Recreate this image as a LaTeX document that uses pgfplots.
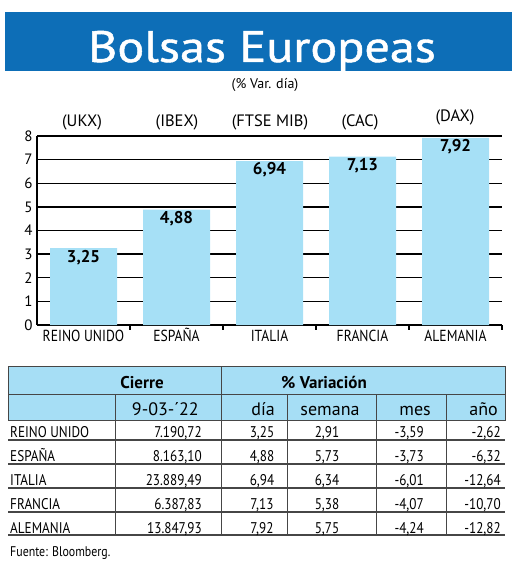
\documentclass[border=0pt]{standalone}
\usepackage{graphicx}
\usepackage{fontspec}
\setmainfont{PT Sans}
\newfontfamily\titlefont[FakeBold=1]{PT Sans}
\usepackage{pgfplots}
\pgfplotsset{compat=1.18}
\definecolor{bannerblue}{RGB}{13,110,183}
\definecolor{barblue}{RGB}{166,224,246}
\definecolor{headblue}{RGB}{166,222,245}
\definecolor{linegray}{RGB}{70,70,70}
\newcommand\cn[1]{\scalebox{0.85}[1]{#1}}
\newcommand\fs[1]{\fontsize{#1}{#1}\selectfont}
\begin{document}
\begin{tikzpicture}
\path[use as bounding box] (0pt,0pt) rectangle (520pt,-561pt);
% banner
\fill[bannerblue] (5pt,-12pt) rectangle (512pt,-71pt);
\node[text=white, anchor=base, inner sep=0pt, font=\titlefont\fs{44}] at (262pt,-62pt) {\scalebox{1.14}[1]{Bolsas Europeas}};
\node[anchor=base, inner sep=0pt, font=\fs{14}] at (265pt,-89pt) {(\% Var. día)};
% index labels
\node[anchor=base, inner sep=0pt, font=\fs{16.5}] at (82pt,-127pt) {(UKX)};
\node[anchor=base, inner sep=0pt, font=\fs{16.5}] at (177pt,-127pt) {(IBEX)};
\node[anchor=base, inner sep=0pt, font=\fs{16.5}] at (270pt,-127pt) {(FTSE MIB)};
\node[anchor=base, inner sep=0pt, font=\fs{16.5}] at (360pt,-127pt) {(CAC)};
\node[anchor=base, inner sep=0pt, font=\fs{16.5}] at (455pt,-122pt) {(DAX)};
\begin{axis}[
  at={(37pt,-325pt)}, anchor=south west,
  scale only axis, width=465pt, height=189pt,
  xmin=-0.5, xmax=4.5, ymin=0, ymax=8,
  axis x line*=bottom, axis y line*=left,
  axis line style={-, black, line width=1.3pt},
  ytick={0,1,2,3,4,5,6,7,8},
  ymajorgrids, major grid style={black, line width=1.3pt},
  ytick style={draw=none}, xtick style={draw=none},
  xtick=data,
  xticklabels={\cn{REINO UNIDO},\cn{ESPAÑA},\cn{ITALIA},\cn{FRANCIA},\cn{ALEMANIA}},
  xticklabel style={font=\fs{16}, text height=11.5pt, text depth=0pt, yshift=-1pt},
  yticklabel style={font=\fs{15}, xshift=-1pt},
  /pgf/number format/assume math mode=true,
  clip=false,
]
\addplot[ybar, bar width=67pt, fill=barblue, draw=none,
  nodes near coords={\pgfmathprintnumber[fixed,fixed zerofill,precision=2,use comma]{\pgfplotspointmeta}},
  every node near coord/.append style={anchor=north, inner sep=1.5pt, font=\bfseries\fs{17}, text=black}]
  coordinates {(0,3.25) (1,4.88) (2,6.94) (3,7.13) (4,7.92)};
\foreach \xx in {0.5,1.5,2.5,3.5,4.5}{
  \edef\temp{\noexpand\draw[black, line width=1.3pt] (axis cs:\xx,0) -- ++(0pt,-5pt);}
  \temp
}
\end{axis}
% table
\fill[headblue] (8pt,-366pt) rectangle (505pt,-420pt);
\draw[linegray, line width=1pt] (8pt,-366pt) rectangle (505pt,-420pt);
\draw[linegray, line width=1pt] (8pt,-394pt) -- (505pt,-394pt);
\draw[linegray, line width=1pt] (221pt,-366pt) -- (221pt,-535pt);
\foreach \xx in {115,287,376,446}{\draw[linegray, line width=0.8pt] (\xx pt,-394pt) -- (\xx pt,-535pt);}
\foreach \yy in {440,464,488,512,535}{\draw[linegray, line width=1.2pt] (8pt,-\yy pt) -- (505pt,-\yy pt);}
\node[anchor=base, inner sep=0pt, font=\bfseries\fs{17}] at (142pt,-388pt) {Cierre};
\node[anchor=base, inner sep=0pt, font=\bfseries\fs{17}] at (324pt,-388pt) {\% Variación};
\node[anchor=base east, inner sep=0pt, font=\fs{18}] at (199pt,-415pt) {9-03-´22};
\node[anchor=base east, inner sep=0pt, font=\fs{18}] at (275pt,-415pt) {día};
\node[anchor=base, inner sep=0pt, font=\fs{18}] at (330pt,-415pt) {semana};
\node[anchor=base east, inner sep=0pt, font=\fs{18}] at (431pt,-415pt) {mes};
\node[anchor=base east, inner sep=0pt, font=\fs{18}] at (498pt,-415pt) {año};
\foreach \nm/\ci/\di/\se/\me/\an [count=\i from 0] in {
  {REINO UNIDO}/{7.190,72}/{3,25}/{2,91}/{-3,59}/{-2,62},
  {ESPAÑA}/{8.163,10}/{4,88}/{5,73}/{-3,73}/{-6,32},
  {ITALIA}/{23.889,49}/{6,94}/{6,34}/{-6,01}/{-12,64},
  {FRANCIA}/{6.387,83}/{7,13}/{5,38}/{-4,07}/{-10,70},
  {ALEMANIA}/{13.847,93}/{7,92}/{5,75}/{-4,24}/{-12,82}}{
  \pgfmathsetmacro\yb{-437-24*\i}
  \node[anchor=base west, inner sep=0pt, font=\fs{15.5}] at (10pt,\yb pt) {\cn{\nm}};
  \node[anchor=base east, inner sep=0pt, font=\fs{15.5}] at (202pt,\yb pt) {\cn{\ci}};
  \node[anchor=base, inner sep=0pt, font=\fs{15.5}] at (262pt,\yb pt) {\cn{\di}};
  \node[anchor=base, inner sep=0pt, font=\fs{15.5}] at (327pt,\yb pt) {\cn{\se}};
  \node[anchor=base east, inner sep=0pt, font=\fs{15.5}] at (424pt,\yb pt) {\cn{\me}};
  \node[anchor=base east, inner sep=0pt, font=\fs{15.5}] at (501pt,\yb pt) {\cn{\an}};
}
\node[anchor=base west, inner sep=0pt, font=\fs{14}] at (10pt,-556pt) {\cn{Fuente: Bloomberg.}};
\end{tikzpicture}
\end{document}
